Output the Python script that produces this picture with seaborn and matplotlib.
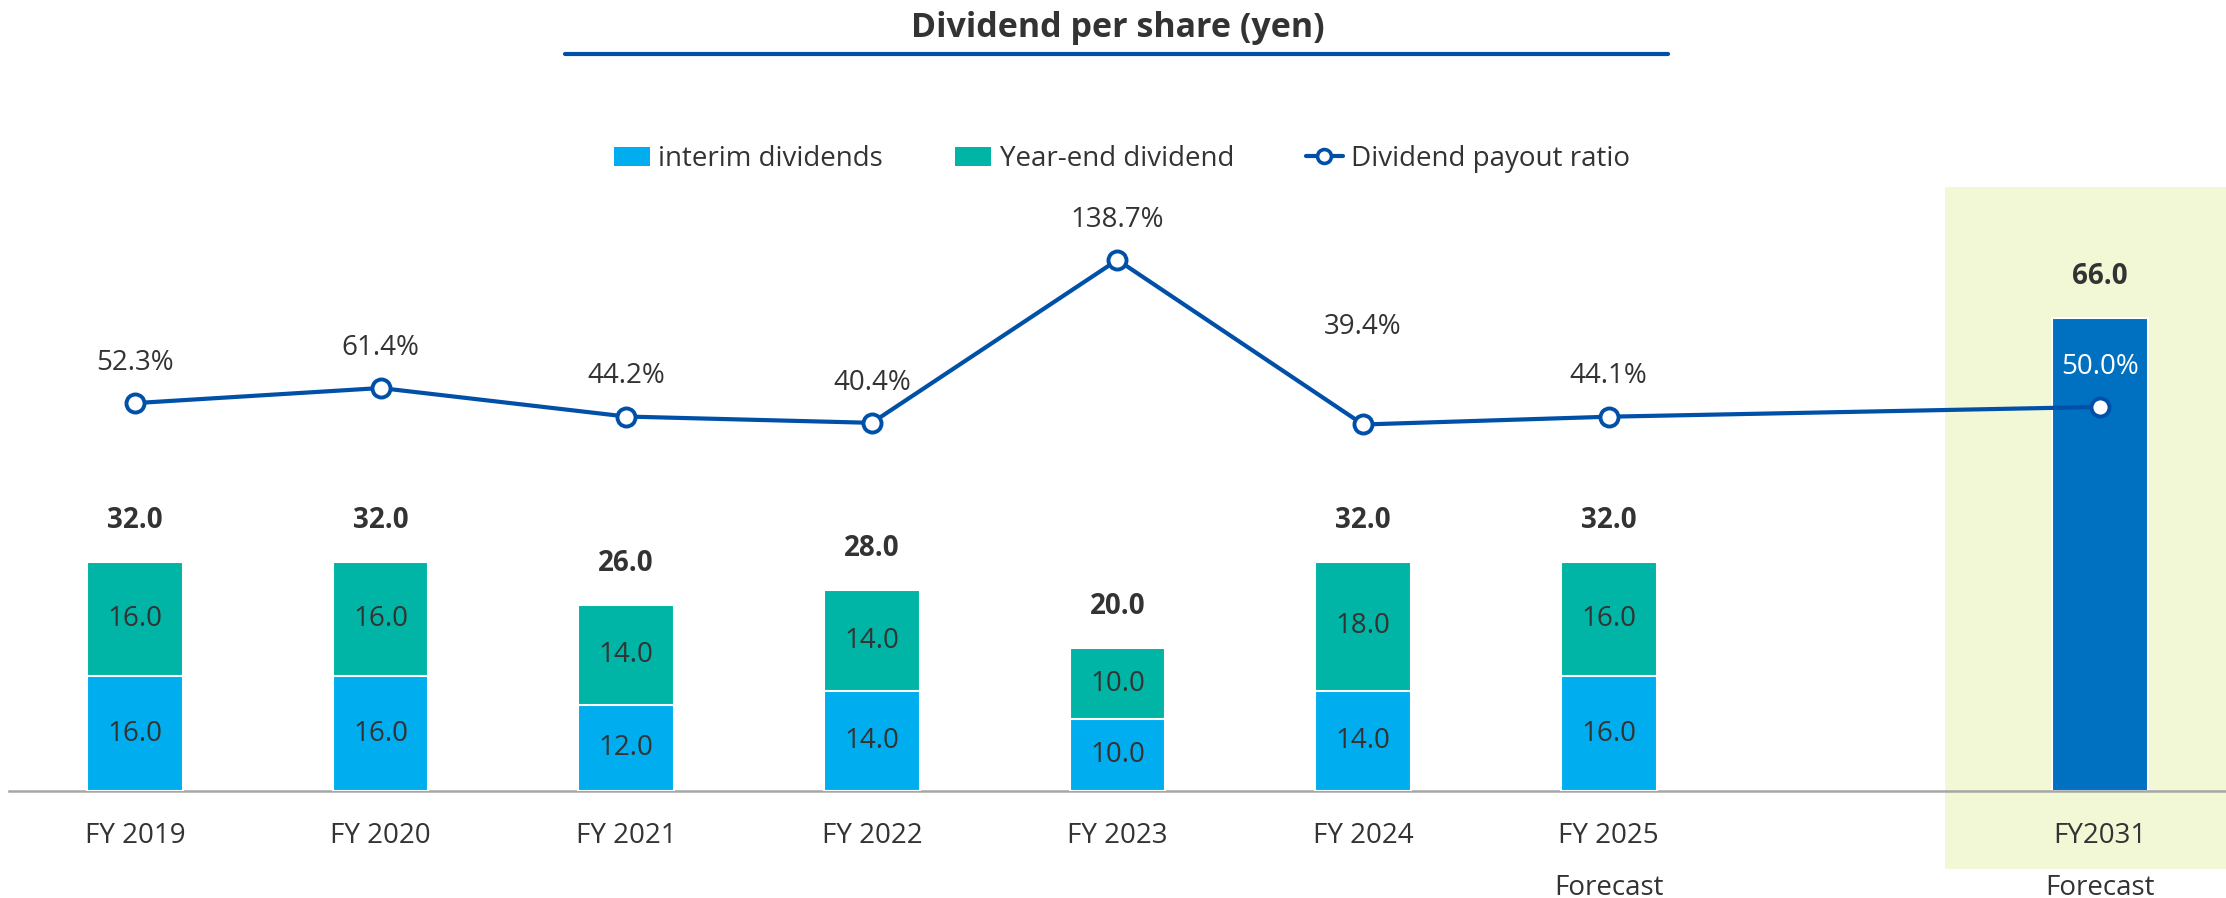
import matplotlib
matplotlib.use("Agg")
import matplotlib.pyplot as plt
import seaborn as sns
import numpy as np
from matplotlib.patches import Patch, Rectangle
from matplotlib.lines import Line2D
import matplotlib.transforms as mtransforms

# ---------------- data ----------------
years = ["FY 2019", "FY 2020", "FY 2021", "FY 2022", "FY 2023", "FY 2024", "FY 2025"]
forecast_year = "FY2031"
interim = [16.0, 16.0, 12.0, 14.0, 10.0, 14.0, 16.0]
year_end = [16.0, 16.0, 14.0, 14.0, 10.0, 18.0, 16.0]
forecast_total = [66.0]
payout = [52.3, 61.4, 44.2, 40.4, 138.7, 39.4, 44.1]
forecast_payout = [50.0]
forecast_tag = "Forecast"
title = "Dividend per share (yen)"
legend_labels = ["interim dividends", "Year-end dividend", "Dividend payout ratio"]

# ---------------- style ----------------
sns.set_theme(style="white")
plt.rcParams["font.family"] = ["Open Sans", "DejaVu Sans"]
TXT = "#333333"
C_INT = "#00AEEF"
C_YE = "#00B5A5"
C_FC = "#0070C0"
C_LINE = "#0050A8"
C_BOX = "#F2F7D5"
FS = 20

fig = plt.figure(figsize=(22.26, 8.98), dpi=100)
ax = fig.add_axes([0.004, 1 - 791 / 898, 0.996, 611 / 898])

n = len(years)
xpos = list(range(n))
x_fc = [n + 1]
totals = [a + b for a, b in zip(interim, year_end)]

# highlight box behind the forecast bar
trans = mtransforms.blended_transform_factory(ax.transData, ax.transAxes)
box = Rectangle((7.37, -0.128), 1.2, 1.116, transform=trans, facecolor=C_BOX,
                edgecolor="none", clip_on=False, zorder=0)
ax.add_patch(box)

W = 0.39
sns.barplot(x=xpos, y=totals, native_scale=True, width=W, color=C_YE, saturation=1,
            edgecolor="white", linewidth=1.5, errorbar=None, ax=ax, zorder=2)
sns.barplot(x=xpos, y=interim, native_scale=True, width=W, color=C_INT, saturation=1,
            edgecolor="white", linewidth=1.5, errorbar=None, ax=ax, zorder=3)
sns.barplot(x=x_fc + [x_fc[0] + 1], y=forecast_total + [0], native_scale=True, width=W,
            color=C_FC, saturation=1, edgecolor="white", linewidth=1.5, errorbar=None,
            ax=ax, zorder=2)

ax.set_xlim(-0.513, 8.513)
ax.set_ylim(0, 85.3)
ax.set_yticks([])
ax.set_ylabel("")
ax.set_xlabel("")
for s in ["top", "right", "left"]:
    ax.spines[s].set_visible(False)
ax.spines["bottom"].set_color("#A6A6A6")
ax.spines["bottom"].set_linewidth(1.8)
ax.patch.set_alpha(0)

ax.set_xticks(xpos + x_fc)
ax.set_xticklabels(years + [forecast_year], fontsize=FS, color=TXT)
ax.tick_params(axis="x", length=0, pad=22)

# forecast tags under FY 2025 and FY2031
for xx in [xpos[-1], x_fc[0]]:
    ax.annotate(forecast_tag, xy=(xx, 0), xycoords=trans, xytext=(0, -70),
                textcoords="offset points", ha="center", va="center",
                fontsize=FS, color=TXT)

# value labels
for i in range(n):
    ax.text(xpos[i], interim[i] / 2, f"{interim[i]:.1f}", ha="center", va="center",
            fontsize=FS, color=TXT, zorder=5)
    ax.text(xpos[i], interim[i] + year_end[i] / 2, f"{year_end[i]:.1f}", ha="center",
            va="center", fontsize=FS, color=TXT, zorder=5)
    ax.annotate(f"{totals[i]:.1f}", xy=(xpos[i], totals[i]), xytext=(0, 30),
                textcoords="offset points", ha="center", va="center", fontsize=FS,
                fontweight="bold", color=TXT)
ax.annotate(f"{forecast_total[0]:.1f}", xy=(x_fc[0], forecast_total[0]), xytext=(0, 30),
            textcoords="offset points", ha="center", va="center", fontsize=FS,
            fontweight="bold", color=TXT)

# payout ratio line on secondary axis
ax2 = ax.twinx()
ax2.set_ylim(-181.7, 186.9)
line_x = xpos + x_fc
line_y = payout + forecast_payout
sns.lineplot(x=line_x, y=line_y, ax=ax2, color=C_LINE, linewidth=3.0, marker="o",
             markersize=13, markerfacecolor="white", markeredgecolor=C_LINE,
             markeredgewidth=2.8, zorder=4)
ax2.set_yticks([])
ax2.set_ylabel("")
for s in ax2.spines.values():
    s.set_visible(False)

extra_offset = {5: 41}
for i, (xx, yy) in enumerate(zip(line_x, line_y)):
    off = 29 + extra_offset.get(i, 0)
    col = "white" if i == len(line_x) - 1 else TXT
    ax2.annotate(f"{yy:.1f}%", xy=(xx, yy), xytext=(0, off), textcoords="offset points",
                 ha="center", va="center", fontsize=FS, color=col)

# title with underline
fig.text(0.502, 1 - 28 / 898, title, ha="center", va="center", fontsize=24.5,
         fontweight="bold", color=TXT)
fig.add_artist(Line2D([565 / 2226, 1668 / 2226], [1 - 54 / 898, 1 - 54 / 898],
                      color=C_LINE, linewidth=3, transform=fig.transFigure))

# legend
handles = [Patch(facecolor=C_INT, edgecolor="none"),
           Patch(facecolor=C_YE, edgecolor="none"),
           Line2D([0], [0], color=C_LINE, linewidth=3.0, marker="o", markersize=10,
                  markerfacecolor="white", markeredgecolor=C_LINE, markeredgewidth=2.6)]
fig.legend(handles, legend_labels, loc="center", bbox_to_anchor=(0.504, 1 - 159 / 898),
           ncol=3, frameon=False, fontsize=FS, handlelength=1.3, handleheight=0.7,
           handletextpad=0.3, columnspacing=2.6, labelcolor=TXT)

fig.savefig("out.png", dpi=100)
